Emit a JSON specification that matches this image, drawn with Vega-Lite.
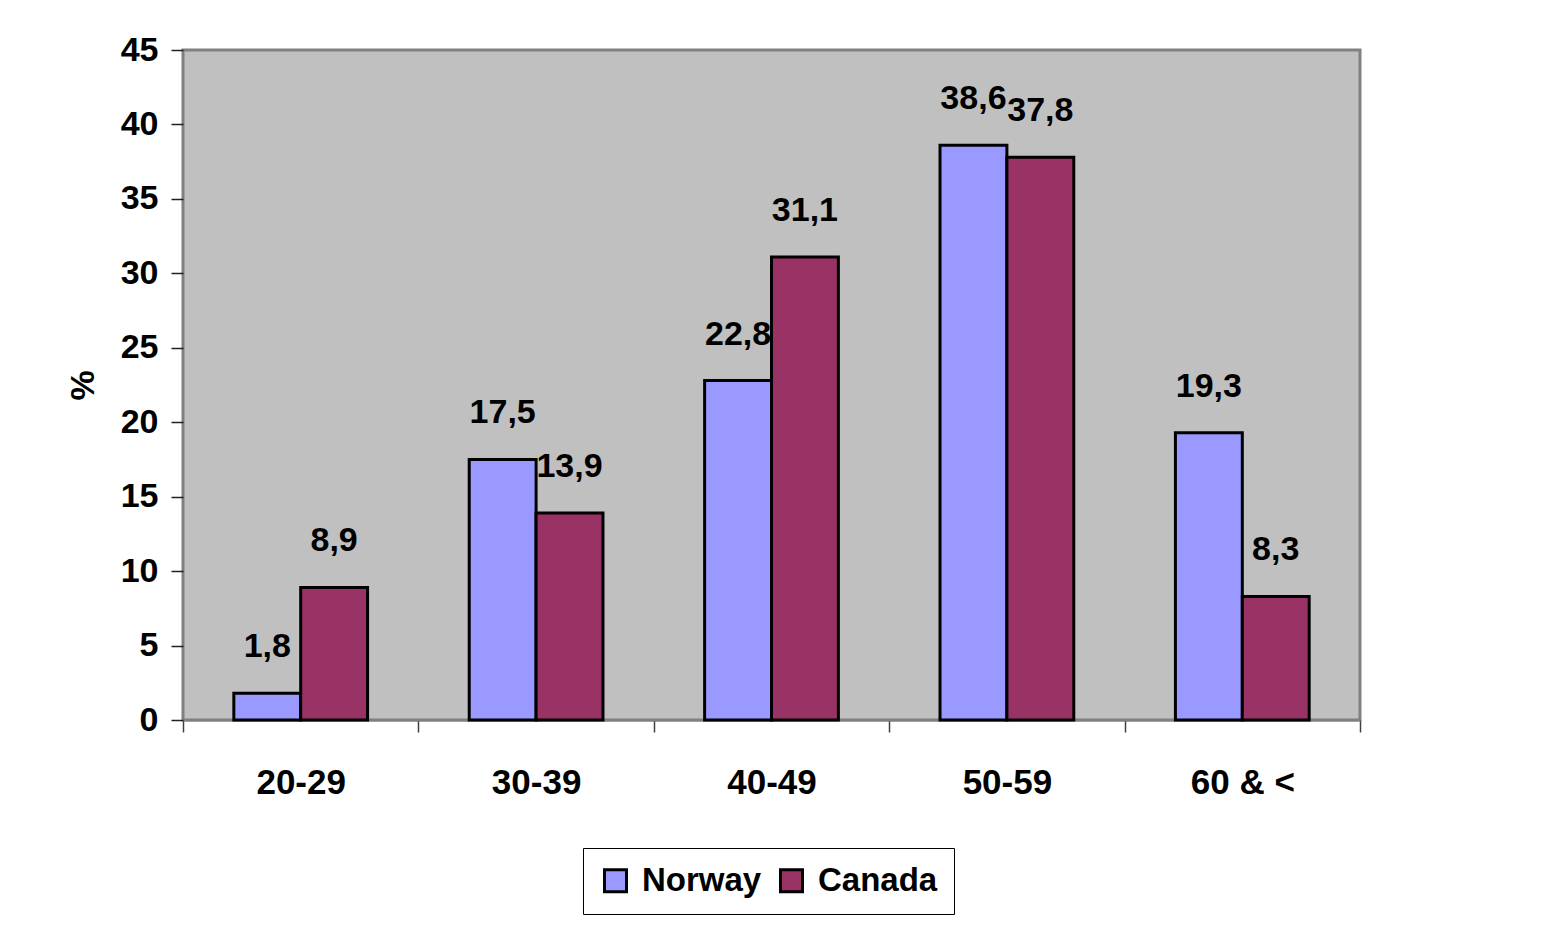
{
  "$schema": "https://vega.github.io/schema/vega-lite/v6.json",
  "autosize": {"type": "none"},
  "padding": {"left": 183, "top": 50, "right": 195, "bottom": 220},
  "width": 1177,
  "height": 670,
  "background": "white",
  "config": {
    "font": "Liberation Sans",
    "locale": {"number": {"decimal": ",", "thousands": ".", "grouping": [3], "currency": ["", " €"]}},
    "view": {"fill": "#C0C0C0", "stroke": "#808080", "strokeWidth": 3}
  },
  "data": {"values": [
    {"age": "20-29", "country": "Norway", "pct": 1.8},
    {"age": "20-29", "country": "Canada", "pct": 8.9},
    {"age": "30-39", "country": "Norway", "pct": 17.5},
    {"age": "30-39", "country": "Canada", "pct": 13.9},
    {"age": "40-49", "country": "Norway", "pct": 22.8},
    {"age": "40-49", "country": "Canada", "pct": 31.1},
    {"age": "50-59", "country": "Norway", "pct": 38.6},
    {"age": "50-59", "country": "Canada", "pct": 37.8},
    {"age": "60 & <", "country": "Norway", "pct": 19.3},
    {"age": "60 & <", "country": "Canada", "pct": 8.3}
  ]},
  "encoding": {
    "x": {"field": "age", "type": "nominal", "sort": null,
      "scale": {"paddingInner": 0, "paddingOuter": 0},
      "axis": {"title": null, "labelAngle": 0, "tickBand": "extent", "labelFont": "Liberation Sans", "labelFontSize": 35, "labelFontWeight": "bold", "labelColor": "black", "labelPadding": 33, "tickSize": 12, "tickColor": "#404040", "tickWidth": 1.5, "domainColor": "#808080", "domainWidth": 2}},
    "xOffset": {"field": "country", "type": "nominal", "sort": ["Norway", "Canada"],
      "scale": {"paddingInner": 0, "paddingOuter": 0.76}},
    "y": {"field": "pct", "type": "quantitative",
      "scale": {"domain": [0, 45], "nice": false},
      "axis": {"title": "%", "values": [0,5,10,15,20,25,30,35,40,45], "grid": false, "domain": false, "tickSize": 12, "tickColor": "#202020", "tickWidth": 1.5, "labelFont": "Liberation Sans", "labelFontSize": 34, "labelFontWeight": "bold", "labelColor": "black", "labelPadding": 13, "titleFont": "Liberation Sans", "titleFontSize": 34, "titleFontWeight": "bold", "titleColor": "black", "titlePadding": 20}}
  },
  "layer": [
    {"mark": {"type": "bar", "stroke": "black", "strokeWidth": 3},
      "encoding": {"color": {"field": "country", "type": "nominal", "sort": ["Norway", "Canada"],
        "scale": {"domain": ["Norway", "Canada"], "range": ["#9999FF", "#993366"]},
        "legend": {"title": null, "orient": "none", "legendX": 400, "legendY": 798, "direction": "horizontal",
          "symbolType": "square", "symbolSize": 484, "symbolStrokeColor": "black", "symbolStrokeWidth": 3, "symbolOpacity": 1,
          "labelFont": "Liberation Sans", "labelFontSize": 33, "labelFontWeight": "bold", "labelColor": "black", "labelOffset": 10,
          "columnPadding": 12, "padding": 16, "strokeColor": "black", "fillColor": "white"}}}},
    {"mark": {"type": "text", "baseline": "alphabetic", "dy": -36, "fontSize": 34, "fontWeight": "bold", "font": "Liberation Sans", "color": "black"},
      "encoding": {"text": {"field": "pct", "type": "quantitative", "format": ".1f"}}}
  ]
}
